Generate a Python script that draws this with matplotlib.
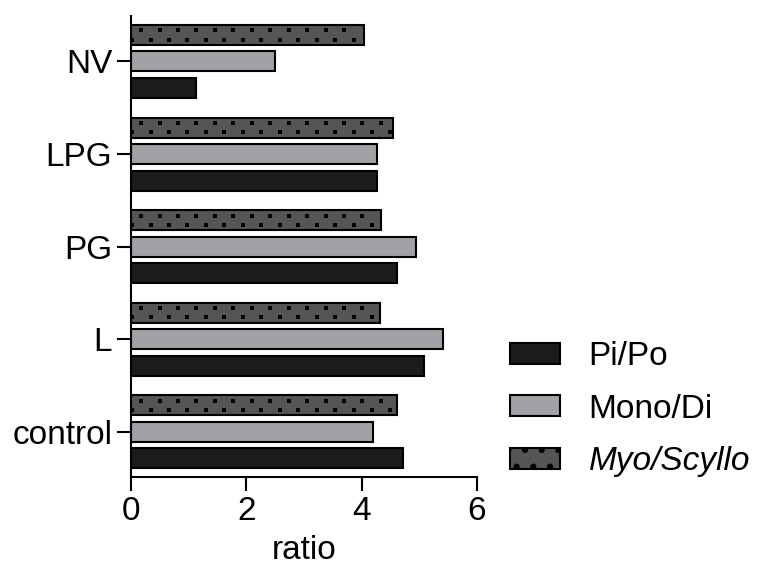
import matplotlib
matplotlib.use("Agg")
import matplotlib.pyplot as plt
from matplotlib.patches import Patch
import numpy as np

plt.rcParams['font.family'] = ['Liberation Sans', 'DejaVu Sans']
plt.rcParams['hatch.linewidth'] = 2.0

groups = ["control", "L", "PG", "LPG", "NV"]
pi_po = [4.72, 5.08, 4.61, 4.27, 1.12]
mono_di = [4.20, 5.41, 4.95, 4.27, 2.49]
myo_scyllo = [4.61, 4.32, 4.33, 4.55, 4.04]

series = ["Pi/Po", "Mono/Di", "Myo/Scyllo"]
colors = ["#1c1c1c", "#a2a2a6", "#555555"]

fig = plt.figure(figsize=(7.57, 5.73), dpi=100)
ax = fig.add_axes([0.173, 0.167, 0.457, 0.805])

y = np.arange(len(groups))
h = 0.215
step = 0.286
for i, (vals, c) in enumerate(zip([pi_po, mono_di, myo_scyllo], colors)):
    ax.barh(y + (i - 1) * step, vals, height=h, color=c, edgecolor="black",
            linewidth=1.5, zorder=2)

# dotted fill for the Myo/Scyllo bars: two staggered rows of square dots
pitch = 0.32
for yc, v in zip(y + step, myo_scyllo):
    for dy, x0 in [(-0.05, 0.02), (0.05, 0.175)]:
        xs = np.arange(x0, v - 0.05, pitch)
        ax.scatter(xs, np.full_like(xs, yc + dy), marker="s", s=9,
                   color="black", linewidths=0, zorder=3)

ax.set_xlim(0, 6)
ax.set_ylim(-0.49, 4.49)
ax.set_xticks([0, 2, 4, 6])
ax.set_yticks(y)
ax.set_yticklabels(groups)
ax.set_xlabel("ratio", fontsize=24, labelpad=6)
ax.tick_params(labelsize=24, width=1.5, length=10, color="black")
for s in ["top", "right"]:
    ax.spines[s].set_visible(False)
for s in ["left", "bottom"]:
    ax.spines[s].set_linewidth(1.5)

handles = [Patch(facecolor=colors[0], edgecolor="black", linewidth=1.5),
           Patch(facecolor=colors[1], edgecolor="black", linewidth=1.5),
           Patch(facecolor=colors[2], edgecolor="black", linewidth=1.5, hatch=".")]
leg = fig.legend(handles, series, loc="upper left", bbox_to_anchor=(0.674, 0.405),
                 frameon=False, fontsize=24, handlelength=1.5, handleheight=0.6,
                 handletextpad=0.85, labelspacing=0.65, borderpad=0, borderaxespad=0)
leg.get_texts()[2].set_style("italic")

fig.savefig("out.png", dpi=100)
